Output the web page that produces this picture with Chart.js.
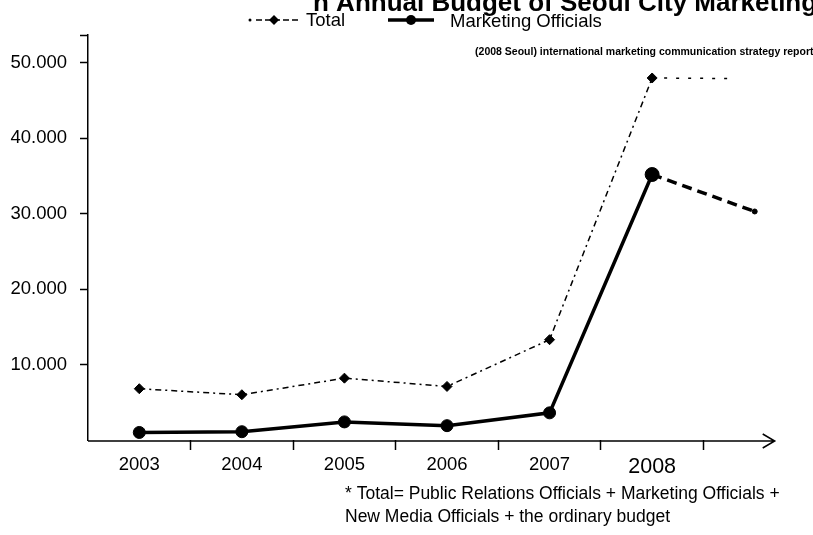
<!DOCTYPE html>
<html>
<head>
<meta charset="utf-8">
<script src="https://cdn.jsdelivr.net/npm/chart.js@4/dist/chart.umd.min.js"></script>
<style>
  html, body { margin: 0; padding: 0; background: #fff; }
  #budgetChart { display: block; }
</style>
</head>
<body>
<canvas id="budgetChart" width="813" height="535"></canvas>
<script>
// budget figures, per year (last slot is the unlabeled trailing point)
const years = ['2003', '2004', '2005', '2006', '2007', '2008', ''];
const totalValues = [6800, 6000, 8200, 7100, 13300, 48000, 47900];
const marketingValues = [1000, 1100, 2400, 1900, 3600, 35200, 30300];

const yTickValues = [10000, 20000, 30000, 40000, 50000];
const yTickLabels = ['10.000', '20.000', '30.000', '40.000', '50.000'];
const yMax = 53700;

const FONT = "'Liberation Sans', Arial, sans-serif";

// title, legend, source line, footnote and the arrowed x axis
const decorations = {
  id: 'decorations',
  beforeDatasetsDraw(chart) {
    const { ctx, chartArea, scales } = chart;
    const y = chartArea.bottom + 1;
    const xEnd = scales.x.getPixelForValue(6) + 20;
    ctx.save();
    ctx.strokeStyle = '#000';
    ctx.lineWidth = 1.5;
    ctx.beginPath();
    ctx.moveTo(chartArea.left, y);
    ctx.lineTo(xEnd, y);
    ctx.moveTo(xEnd - 12, y - 7);
    ctx.lineTo(xEnd, y);
    ctx.lineTo(xEnd - 12, y + 7);
    ctx.stroke();
    ctx.restore();
  },
  afterDraw(chart) {
    const { ctx } = chart;
    ctx.save();
    ctx.fillStyle = '#000';
    ctx.strokeStyle = '#000';
    ctx.textBaseline = 'alphabetic';

    // title, top clipped by the canvas edge
    ctx.font = `bold 26px ${FONT}`;
    ctx.textAlign = 'left';
    ctx.fillText('n Annual Budget of Seoul City Marketing', 313, 11);

    // legend: Total
    ctx.lineWidth = 1.5;
    ctx.setLineDash([6, 3]);
    ctx.beginPath();
    ctx.moveTo(256, 20);
    ctx.lineTo(298, 20);
    ctx.stroke();
    ctx.setLineDash([]);
    ctx.beginPath();
    ctx.arc(250, 20, 1.5, 0, Math.PI * 2);
    ctx.fill();
    ctx.beginPath();
    ctx.moveTo(274, 15);
    ctx.lineTo(279, 20);
    ctx.lineTo(274, 25);
    ctx.lineTo(269, 20);
    ctx.closePath();
    ctx.fill();
    ctx.font = `18.5px ${FONT}`;
    ctx.fillText('Total', 306, 26);

    // legend: Marketing Officials
    ctx.lineWidth = 3.5;
    ctx.beginPath();
    ctx.moveTo(388, 20);
    ctx.lineTo(434, 20);
    ctx.stroke();
    ctx.beginPath();
    ctx.arc(411, 20, 5, 0, Math.PI * 2);
    ctx.fill();
    ctx.fillText('Marketing Officials', 450, 27);

    // source line
    ctx.font = `bold 10.5px ${FONT}`;
    ctx.textAlign = 'right';
    ctx.fillText('(2008 Seoul) international marketing communication strategy report)', 817, 55);

    // footnote
    ctx.font = `17.5px ${FONT}`;
    ctx.textAlign = 'left';
    ctx.fillText('* Total= Public Relations Officials + Marketing Officials +', 345, 499);
    ctx.fillText('New Media Officials + the ordinary budget', 345, 522);
    ctx.restore();
  }
};

const chart = new Chart(document.getElementById('budgetChart'), {
  type: 'line',
  data: {
    labels: years,
    datasets: [
      {
        label: 'Total',
        data: totalValues,
        borderColor: '#000',
        borderWidth: 1.5,
        borderDash: [6, 4, 2, 4],
        pointStyle: 'rectRot',
        pointRadius: [5, 5, 5, 5, 5, 5, 0],
        pointBackgroundColor: '#000',
        pointBorderColor: '#000',
        pointBorderWidth: 1,
        tension: 0,
        segment: {
          // sparse dots after the peak, fading out before the last slot
          borderDash: (c) => (c.p1DataIndex === 6 ? [3, 9, 3, 9, 3, 9, 3, 9, 3, 9, 3, 9, 3, 60] : undefined)
        }
      },
      {
        label: 'Marketing Officials',
        data: marketingValues,
        borderColor: '#000',
        borderWidth: 3.5,
        pointStyle: 'circle',
        pointRadius: [6, 6, 6, 6, 6, 7, 2.5],
        pointBackgroundColor: '#000',
        pointBorderColor: '#000',
        pointBorderWidth: 1,
        tension: 0,
        segment: {
          borderDash: (c) => (c.p1DataIndex === 6 ? [10, 6] : undefined)
        }
      }
    ]
  },
  options: {
    responsive: false,
    animation: false,
    devicePixelRatio: 1,
    layout: { padding: { top: 35, right: 3, left: 0, bottom: 0 } },
    plugins: {
      legend: { display: false },
      title: { display: false },
      tooltip: { enabled: false }
    },
    scales: {
      x: {
        type: 'category',
        offset: true,
        border: { display: false },
        grid: {
          offset: true,
          drawOnChartArea: false,
          drawTicks: true,
          tickLength: 10,
          tickWidth: 1.5,
          tickColor: (c) => (c.index >= 1 && c.index <= 6 ? '#000' : 'rgba(0,0,0,0)')
        },
        ticks: {
          color: '#000',
          padding: 4,
          autoSkip: false,
          maxRotation: 0,
          font: (c) => (c.index === 5 ? { family: FONT, size: 21.5 } : { family: FONT, size: 18.5 })
        },
        afterFit: (s) => { s.height = 95; }
      },
      y: {
        min: 0,
        max: yMax,
        border: { display: true, color: '#000', width: 1.5 },
        grid: {
          drawOnChartArea: false,
          tickLength: 8,
          tickWidth: 1.5,
          tickColor: '#000'
        },
        ticks: {
          color: '#000',
          padding: 13,
          font: { family: FONT, size: 18.5 },
          callback: (v) => {
            const i = yTickValues.indexOf(v);
            return i >= 0 ? yTickLabels[i] : '';
          }
        },
        afterBuildTicks: (s) => {
          s.ticks = yTickValues.map((v) => ({ value: v })).concat([{ value: yMax }]);
        },
        afterFit: (s) => { s.width = 88; }
      }
    }
  },
  plugins: [decorations]
});
</script>
</body>
</html>
